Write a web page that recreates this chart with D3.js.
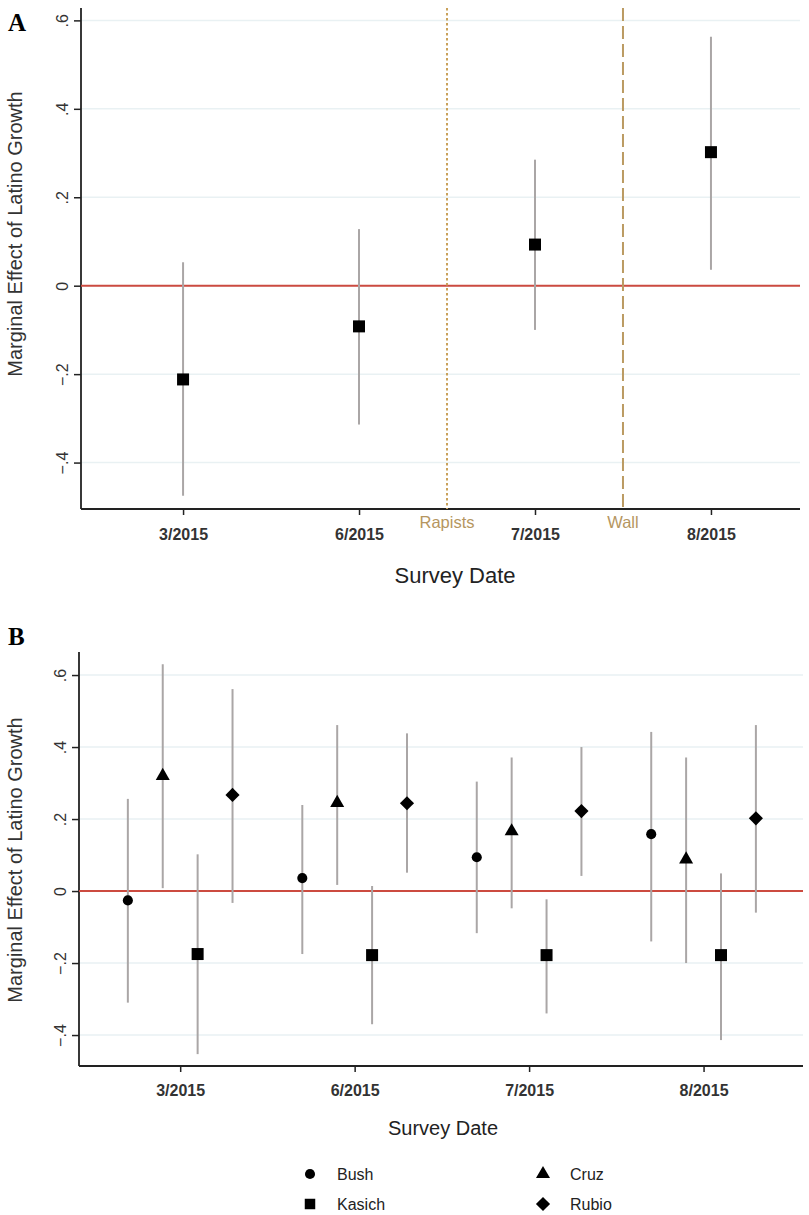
<!DOCTYPE html>
<html>
<head>
<meta charset="utf-8">
<script src="https://cdn.jsdelivr.net/npm/d3@7"></script>
<style>
  body { margin: 0; background: #fff; }
  svg text { font-family: "Liberation Sans", Arial, sans-serif; }
  svg text.panel-letter { font-family: "Liberation Serif", "Times New Roman", serif; }
</style>
</head>
<body>
<div id="chart"></div>
<script>
// survey waves
var dates = ["3/2015", "6/2015", "7/2015", "8/2015"];
var yTicks = [-0.4, -0.2, 0, 0.2, 0.4, 0.6];

// panel A - all candidates pooled
var aEst = [-0.212, -0.092, 0.093, 0.302];
var aLow = [-0.475, -0.314, -0.100, 0.036];
var aHigh = [0.053, 0.128, 0.285, 0.563];

// events between waves
var events = ["Rapists", "Wall"];
var eventPos = [2.5, 3.5];

// panel B - by candidate
var candidates = ["Bush", "Cruz", "Kasich", "Rubio"];
var candOffset = [-0.3, -0.1, 0.1, 0.3];
var bushEst = [-0.026, 0.036, 0.094, 0.158];
var bushLow = [-0.310, -0.175, -0.117, -0.140];
var bushHigh = [0.256, 0.239, 0.304, 0.442];
var cruzEst = [0.320, 0.245, 0.166, 0.088];
var cruzLow = [0.008, 0.017, -0.048, -0.200];
var cruzHigh = [0.630, 0.461, 0.371, 0.371];
var kasichEst = [-0.175, -0.178, -0.178, -0.178];
var kasichLow = [-0.453, -0.370, -0.340, -0.414];
var kasichHigh = [0.102, 0.014, -0.023, 0.049];
var rubioEst = [0.267, 0.244, 0.222, 0.202];
var rubioLow = [-0.033, 0.051, 0.042, -0.060];
var rubioHigh = [0.561, 0.438, 0.400, 0.461];

var ciColor = "#aaa6a6";
var zeroColor = "#cc4b40";
var gridColor = "#e9f1f3";

var svg = d3.select("#chart").append("svg")
    .attr("width", 809)
    .attr("height", 1215);

function fmt(v){
  if (Math.abs(v) < 1e-9) return "0";
  return d3.format(".1f")(v).replace("0.", ".");
}

function markerPath(kind, size){
  if (kind == "circle") return d3.symbol().type(d3.symbolCircle).size(size)();
  if (kind == "triangle") return d3.symbol().type(d3.symbolTriangle).size(size)();
  return d3.symbol().type(d3.symbolSquare).size(size)();
}

function drawFrame(g, x, y, o){
  // light grid
  g.selectAll(".grid").data(yTicks).enter().append("line")
    .attr("x1", o.left).attr("x2", o.right)
    .attr("y1", function(d){ return y(d); })
    .attr("y2", function(d){ return y(d); })
    .attr("stroke", gridColor).attr("stroke-width", 1.5);

  var ya = g.append("g")
    .attr("transform", "translate(" + o.left + ",0)")
    .call(d3.axisLeft(y).tickValues(yTicks).tickSize(7).tickFormat(fmt));
  ya.select(".domain").attr("stroke", "#222").attr("stroke-width", 1.8)
    .attr("d", "M0," + o.top + "V" + o.bottom);
  ya.selectAll(".tick line").attr("stroke", "#222").attr("stroke-width", 1.5);
  ya.selectAll(".tick text")
    .attr("transform", "rotate(-90)")
    .attr("x", 0).attr("y", -13).attr("dy", 0)
    .attr("text-anchor", "middle")
    .attr("font-size", 16).attr("fill", "#333");

  var xa = g.append("g")
    .attr("transform", "translate(0," + o.bottom + ")")
    .call(d3.axisBottom(x).tickValues([1, 2, 3, 4]).tickSize(6)
      .tickFormat(function(d){ return dates[d - 1]; }));
  xa.select(".domain").attr("stroke", "#222").attr("stroke-width", 1.8)
    .attr("d", "M" + o.left + ",0H" + o.right);
  xa.selectAll(".tick line").attr("stroke", "#222").attr("stroke-width", 1.5);
  xa.selectAll(".tick text")
    .attr("y", o.tickY).attr("dy", 0)
    .attr("font-size", 16).attr("font-weight", "bold").attr("fill", "#333");

  // zero line
  g.append("line")
    .attr("x1", o.left).attr("x2", o.right)
    .attr("y1", y(0)).attr("y2", y(0))
    .attr("stroke", zeroColor).attr("stroke-width", 2);

  g.append("text")
    .attr("transform", "translate(" + o.titleX + "," + o.titleY + ") rotate(-90)")
    .attr("text-anchor", "middle")
    .attr("font-size", 20).attr("fill", "#333")
    .text("Marginal Effect of Latino Growth");

  g.append("text")
    .attr("x", o.xtitleX).attr("y", o.xtitleY)
    .attr("text-anchor", "middle")
    .attr("font-size", o.xtitleSize).attr("fill", "#222")
    .text("Survey Date");

  g.append("text")
    .attr("class", "panel-letter")
    .attr("x", 8).attr("y", o.letterY)
    .attr("font-weight", "bold").attr("font-size", 25)
    .text(o.letter);
}

// ---------- panel A ----------
var oA = { left: 81, right: 800, top: 8, bottom: 509, tickY: 31,
           titleX: 22, titleY: 234, xtitleX: 455, xtitleY: 583, xtitleSize: 22,
           letter: "A", letterY: 31 };
var xA = d3.scaleLinear().domain([0.42, 4.506]).range([oA.left, oA.right]);
var yA = d3.scaleLinear().domain([-0.505, 0.628]).range([oA.bottom, oA.top]);
var gA = svg.append("g");
drawFrame(gA, xA, yA, oA);

// event lines
var evStyle = [{ dash: "2.5,2.5", color: "#c9a15a" }, { dash: "13,5", color: "#bb9b62" }];
events.forEach(function(ev, i){
  gA.append("line")
    .attr("x1", xA(eventPos[i])).attr("x2", xA(eventPos[i]))
    .attr("y1", oA.top).attr("y2", oA.bottom)
    .attr("stroke", evStyle[i].color).attr("stroke-width", 2)
    .attr("stroke-dasharray", evStyle[i].dash);
  gA.append("text")
    .attr("x", xA(eventPos[i])).attr("y", oA.bottom + 19)
    .attr("text-anchor", "middle")
    .attr("font-size", 16.5).attr("fill", "#b5965f")
    .text(ev);
});

gA.selectAll(".ci").data(aEst).enter().append("line")
  .attr("x1", function(d, i){ return xA(i + 1); })
  .attr("x2", function(d, i){ return xA(i + 1); })
  .attr("y1", function(d, i){ return yA(aLow[i]); })
  .attr("y2", function(d, i){ return yA(aHigh[i]); })
  .attr("stroke", ciColor).attr("stroke-width", 2);

gA.selectAll(".pt").data(aEst).enter().append("path")
  .attr("d", markerPath("square", 144))
  .attr("transform", function(d, i){ return "translate(" + xA(i + 1) + "," + yA(d) + ")"; })
  .attr("fill", "#000");

// ---------- panel B ----------
var oB = { left: 79, right: 803, top: 652, bottom: 1066, tickY: 30,
           titleX: 22, titleY: 860, xtitleX: 443, xtitleY: 1135, xtitleSize: 20,
           letter: "B", letterY: 645 };
var xB = d3.scaleLinear().domain([0.42, 4.57]).range([oB.left, oB.right]);
var yB = d3.scaleLinear().domain([-0.486, 0.664]).range([oB.bottom, oB.top]);
var gB = svg.append("g");
drawFrame(gB, xB, yB, oB);

var series = [
  { name: "Bush", est: bushEst, low: bushLow, high: bushHigh, shape: "circle", size: 80 },
  { name: "Cruz", est: cruzEst, low: cruzLow, high: cruzHigh, shape: "triangle", size: 85 },
  { name: "Kasich", est: kasichEst, low: kasichLow, high: kasichHigh, shape: "square", size: 144 },
  { name: "Rubio", est: rubioEst, low: rubioLow, high: rubioHigh, shape: "diamond", size: 100 }
];

series.forEach(function(s, k){
  var off = candOffset[k];
  gB.selectAll(".ci" + k).data(s.est).enter().append("line")
    .attr("x1", function(d, i){ return xB(i + 1 + off); })
    .attr("x2", function(d, i){ return xB(i + 1 + off); })
    .attr("y1", function(d, i){ return yB(s.low[i]); })
    .attr("y2", function(d, i){ return yB(s.high[i]); })
    .attr("stroke", ciColor).attr("stroke-width", 2);
});

series.forEach(function(s, k){
  var off = candOffset[k];
  gB.selectAll(".pt" + k).data(s.est).enter().append("path")
    .attr("d", markerPath(s.shape, s.size))
    .attr("transform", function(d, i){
      var t = "translate(" + xB(i + 1 + off) + "," + yB(d) + ")";
      return s.shape == "diamond" ? t + " rotate(45)" : t;
    })
    .attr("fill", "#000");
});

// legend, two columns: Bush/Kasich left, Cruz/Rubio right
var legX = [310, 543];
var legY = [1174, 1204];
var legCol = { Bush: 0, Kasich: 0, Cruz: 1, Rubio: 1 };
var legRow = { Bush: 0, Cruz: 0, Kasich: 1, Rubio: 1 };
series.forEach(function(s){
  var lx = legX[legCol[s.name]];
  var ly = legY[legRow[s.name]];
  svg.append("path")
    .attr("d", markerPath(s.shape, s.shape == "square" ? 110 : s.size))
    .attr("transform", "translate(" + lx + "," + ly + ")" + (s.shape == "diamond" ? " rotate(45)" : ""))
    .attr("fill", "#000");
  svg.append("text")
    .attr("x", lx + 27).attr("y", ly + 6)
    .attr("font-size", 16).attr("fill", "#222")
    .text(s.name);
});
</script>
</body>
</html>
